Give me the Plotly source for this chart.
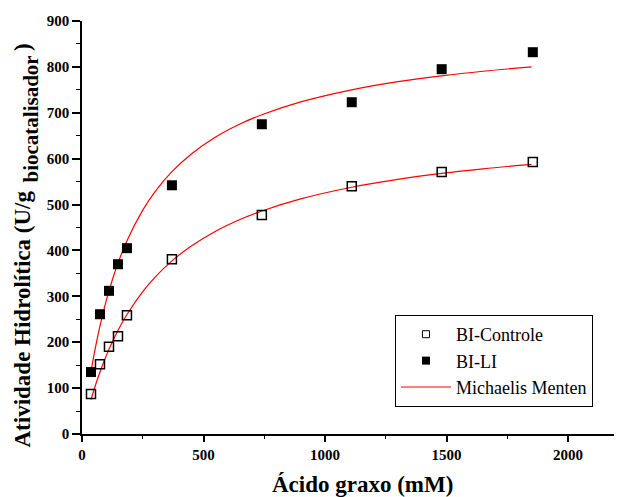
import plotly.graph_objects as go

# Measured data
x_conc = [37, 74, 111, 148, 185, 370, 740, 1110, 1480, 1855]
y_controle = [87, 152, 190, 213, 259, 381, 477, 540, 571, 593]
y_li = [135, 261, 312, 370, 405, 542, 675, 723, 795, 832]

# Michaelis-Menten fit curves
x_fit = [37, 50, 75, 100, 125, 150, 185, 250, 300, 370, 450, 550, 650, 740, 900, 1110, 1300, 1480, 1650, 1850]
y_fit_li = [135.6, 174.0, 237.7, 291.0, 336.2, 375.1, 421.2, 487.9, 527.6, 571.6, 610.3, 647.2, 675.5, 695.8, 723.8, 750.1, 767.7, 780.6, 790.5, 800.0]
y_fit_controle = [75.0, 97.6, 136.6, 170.8, 200.9, 227.7, 260.5, 310.5, 341.5, 377.2, 409.8, 441.9, 467.3, 486.0, 512.3, 537.7, 554.9, 567.9, 577.9, 587.7]

x_ticks = [0, 500, 1000, 1500, 2000]
x_ticklabels = ["0", "500", "1000", "1500", "2000"]
y_ticks = [0, 100, 200, 300, 400, 500, 600, 700, 800, 900]
y_ticklabels = ["0", "100", "200", "300", "400", "500", "600", "700", "800", "900"]

FONT = "Liberation Serif"
RED = "#ff0000"

fig = go.Figure()
# plotted marks
fig.add_trace(go.Scatter(x=x_fit, y=y_fit_li, mode="lines", line=dict(color=RED, width=1.2, shape="spline"),
                         showlegend=False))
fig.add_trace(go.Scatter(x=x_fit, y=y_fit_controle, mode="lines", line=dict(color=RED, width=1.2, shape="spline"),
                         showlegend=False))
fig.add_trace(go.Scatter(x=x_conc, y=y_controle, mode="markers", showlegend=False,
                         marker=dict(symbol="square-open", size=9, color="black", line=dict(width=1.5))))
fig.add_trace(go.Scatter(x=x_conc, y=y_li, mode="markers", showlegend=False,
                         marker=dict(symbol="square", size=10, color="black")))
# legend entries
fig.add_trace(go.Scatter(x=[None], y=[None], mode="markers", name="BI-Controle",
                         marker=dict(symbol="square-open", size=7, color="black", line=dict(width=1))))
fig.add_trace(go.Scatter(x=[None], y=[None], mode="markers", name="BI-LI",
                         marker=dict(symbol="square", size=8, color="black")))
fig.add_trace(go.Scatter(x=[None], y=[None], mode="lines", name="Michaelis Menten",
                         line=dict(color=RED, width=1.2)))

ann = [
    dict(text="<b>Atividade Hidrolítica (U/g</b>", textangle=-90, font=dict(family=FONT, size=23, color="black"),
         xref="paper", yref="paper", x=0, y=0, xanchor="center", yanchor="bottom",
         xshift=-60, yshift=-16, showarrow=False),
    dict(text="<b>biocatalisador</b>", textangle=-90, font=dict(family=FONT, size=21, color="black"),
         xref="paper", yref="paper", x=0, y=0, xanchor="center", yanchor="bottom",
         xshift=-52, yshift=249, showarrow=False),
    dict(text="<b>)</b>", textangle=-90, font=dict(family=FONT, size=23, color="black"),
         xref="paper", yref="paper", x=0, y=0, xanchor="center", yanchor="bottom",
         xshift=-60, yshift=381, showarrow=False),
    dict(text="<b>Ácido graxo (mM)</b>", font=dict(family=FONT, size=23, color="black"),
         xref="paper", yref="paper", x=0, y=0, xanchor="center", yanchor="middle",
         xshift=280, yshift=-50, showarrow=False),
]

fig.update_layout(
    width=614, height=489,
    margin=dict(l=74, r=0, t=13, b=63),
    paper_bgcolor="white", plot_bgcolor="white",
    font=dict(family=FONT, color="black"),
    annotations=ann,
    legend=dict(x=0.5796, y=0.2881, xanchor="left", yanchor="top",
                bordercolor="black", borderwidth=1, bgcolor="white",
                font=dict(family=FONT, size=18), itemwidth=50, tracegroupgap=0),
    xaxis=dict(range=[0, 2222], tickvals=x_ticks, ticktext=["<b>%s</b>" % t for t in x_ticklabels],
               showgrid=False, zeroline=False,
               showline=True, linecolor="black", linewidth=1.5,
               ticks="outside", ticklen=6, tickwidth=1.5, tickcolor="black",
               tickfont=dict(family=FONT, size=15),
               minor=dict(dtick=250, ticks="outside", ticklen=3, tickwidth=1.2, tickcolor="black"),
               automargin=False),
    yaxis=dict(range=[0, 900], tickvals=y_ticks, ticktext=["<b>%s</b>" % t for t in y_ticklabels],
               showgrid=False, zeroline=False,
               showline=True, linecolor="black", linewidth=1.5,
               ticks="outside", ticklen=8, tickwidth=1.5, tickcolor="black",
               tickfont=dict(family=FONT, size=15),
               minor=dict(dtick=50, ticks="outside", ticklen=4, tickwidth=1.2, tickcolor="black"),
               automargin=False),
)

fig.write_html("out.html")
